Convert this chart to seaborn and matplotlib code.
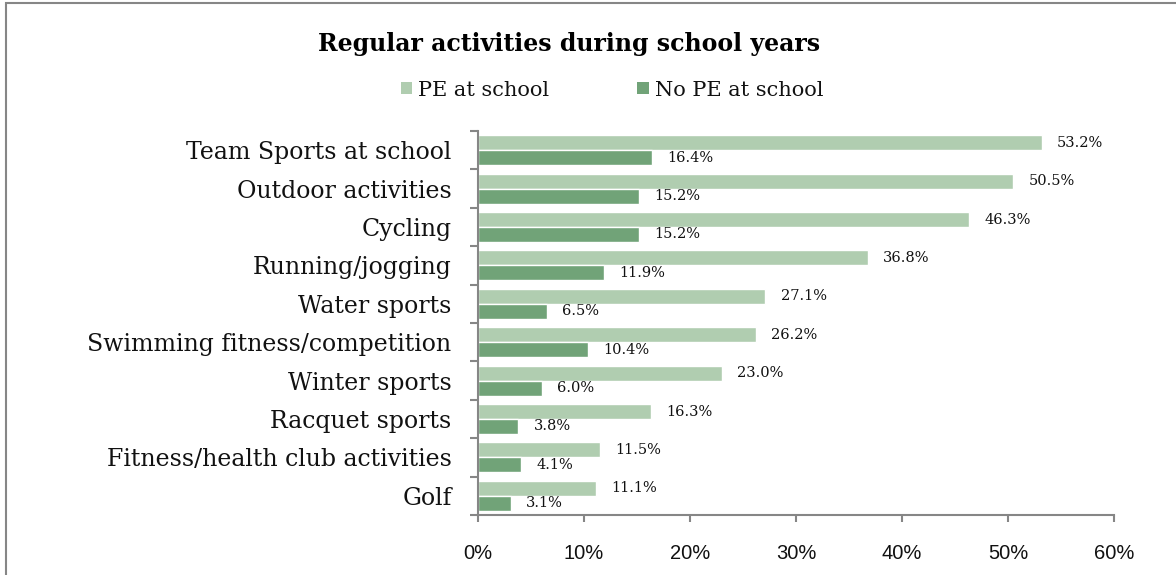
import matplotlib
matplotlib.use("Agg")
import matplotlib.pyplot as plt
import matplotlib.patches as mpatches
from matplotlib.ticker import FixedLocator, PercentFormatter
import seaborn as sns
import pandas as pd

activities = [
    "Team Sports at school",
    "Outdoor activities",
    "Cycling",
    "Running/jogging",
    "Water sports",
    "Swimming fitness/competition",
    "Winter sports",
    "Racquet sports",
    "Fitness/health club activities",
    "Golf",
]
pe_at_school = [53.2, 50.5, 46.3, 36.8, 27.1, 26.2, 23.0, 16.3, 11.5, 11.1]
no_pe_at_school = [16.4, 15.2, 15.2, 11.9, 6.5, 10.4, 6.0, 3.8, 4.1, 3.1]
series_names = ["PE at school", "No PE at school"]
x_ticks = [0, 10, 20, 30, 40, 50, 60]

colors = ["#B0CDB0", "#71A378"]
serif = ["DejaVu Serif"]
sans = ["Liberation Sans", "DejaVu Sans"]

df = pd.DataFrame({
    "activity": activities * 2,
    "value": pe_at_school + no_pe_at_school,
    "series": [series_names[0]] * len(activities) + [series_names[1]] * len(activities),
})

sns.set_theme(style="white")
plt.rcParams["font.family"] = serif

fig = plt.figure(figsize=(11.76, 5.75), dpi=100)
ax = fig.add_axes([478 / 1176, 1 - 515 / 575, (1114 - 478) / 1176, (515 - 131) / 575])

sns.barplot(
    data=df, x="value", y="activity", hue="series", order=activities,
    hue_order=series_names, palette=colors, orient="h", width=0.78,
    edgecolor="white", linewidth=1.0, saturation=1, legend=False, ax=ax,
)

for container in ax.containers:
    ax.bar_label(container, labels=[f"{v:.1f}%" for v in container.datavalues],
                 padding=11, fontsize=10.5, family=serif, color="#111111")

ax.set_xlim(0, 60)
ax.set_ylim(len(activities) - 0.5, -0.5)
ax.set_xlabel("")
ax.set_ylabel("")
ax.xaxis.set_major_locator(FixedLocator(x_ticks))
ax.xaxis.set_major_formatter(PercentFormatter(decimals=0))
for lbl in ax.get_xticklabels():
    lbl.set_family(sans)
    lbl.set_fontsize(14.5)
ax.tick_params(axis="x", direction="out", length=5, width=1.5, color="#868686",
               bottom=True, pad=16, labelcolor="#111111")

# category labels on the left, tick marks at band boundaries
ax.set_yticks(range(len(activities)))
ax.set_yticklabels(activities, fontsize=17, family=serif, color="#111111")
ax.tick_params(axis="y", which="major", length=0, pad=19)
ax.yaxis.set_minor_locator(FixedLocator([i - 0.5 for i in range(len(activities) + 1)]))
ax.tick_params(axis="y", which="minor", direction="out", length=6, width=1.5,
               color="#868686", left=True)

for side in ["top", "right"]:
    ax.spines[side].set_visible(False)
for side in ["left", "bottom"]:
    ax.spines[side].set_color("#868686")
    ax.spines[side].set_linewidth(1.5)

fig.text(569 / 1176, 1 - 44 / 575, "Regular activities during school years",
         ha="center", va="center", fontsize=17, fontweight="bold", family=serif,
         color="black")

handles = [mpatches.Patch(facecolor=c, edgecolor="none", label=n)
           for c, n in zip(colors, series_names)]
fig.legend(handles=handles, loc="center", bbox_to_anchor=(612 / 1176, 1 - 90 / 575),
           ncol=2, frameon=False, handlelength=0.55, handleheight=0.55,
           handletextpad=0.3, columnspacing=4.2,
           prop={"family": serif, "size": 15}, labelcolor="#111111")

# outer frame of the chart area
fig.patches.append(mpatches.Rectangle((6 / 1176, -0.1), 1.2, 1 - 3 / 575 + 0.1,
                                      transform=fig.transFigure, fill=False,
                                      edgecolor="#868686", linewidth=1.5))

fig.savefig("out.png", dpi=100, facecolor="white")
